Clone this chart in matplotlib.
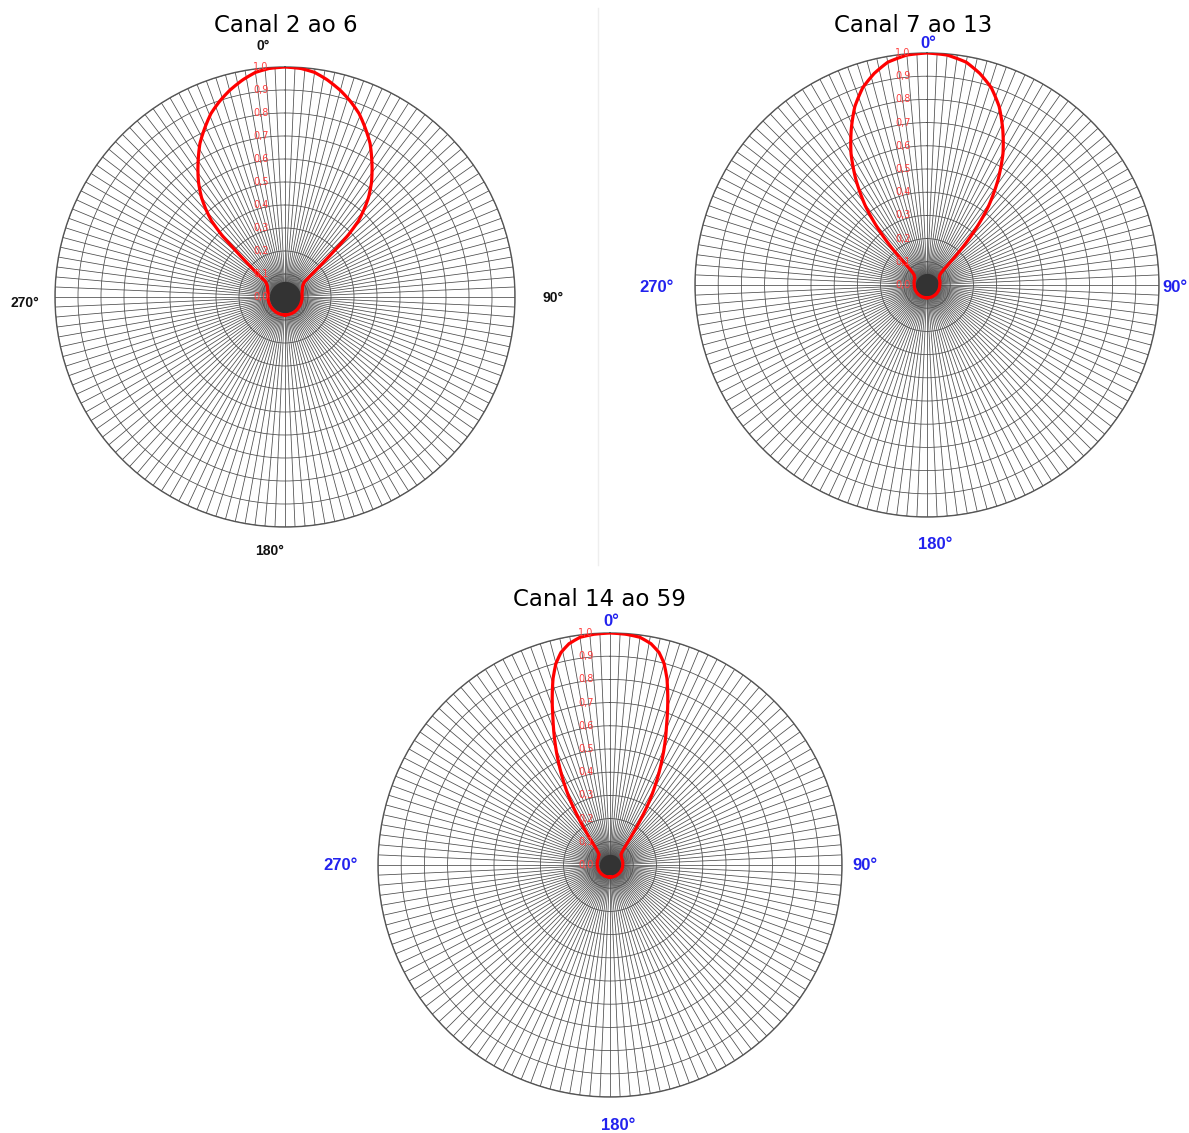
import numpy as np
import matplotlib
matplotlib.use("Agg")
import matplotlib.pyplot as plt
import matplotlib.transforms as mtransforms

W, H = 1189, 1133

# diagramas (metade direita, simetricos): angulo em graus -> campo relativo
ang_c1 = [0, 4, 7.5, 11, 15, 18.5, 22, 25.5, 29, 31.5, 34, 37, 40, 42, 44, 45.7, 47,
          48.5, 50, 51.5, 55, 60, 70, 78, 100, 130, 155, 180]
val_c1 = [1.0, 0.996, 0.985, 0.962, 0.93, 0.897, 0.86, 0.812, 0.763, 0.72, 0.677, 0.625,
          0.565, 0.515, 0.46, 0.38, 0.28, 0.2, 0.15, 0.11, 0.097, 0.088, 0.08, 0.075,
          0.074, 0.075, 0.077, 0.078]

ang_c2 = [0, 5, 10, 14, 18, 22, 26, 30, 34, 38, 41, 43.5, 45.5, 47, 49.5, 52, 60, 90,
          135, 180]
val_c2 = [1.0, 0.995, 0.975, 0.94, 0.895, 0.83, 0.745, 0.655, 0.548, 0.43, 0.32, 0.22,
          0.14, 0.10, 0.08, 0.07, 0.06, 0.055, 0.055, 0.055]

ang_c3 = [0, 4, 7.5, 10.5, 13, 15, 17, 19, 21.5, 24, 26.5, 29, 31.5, 33.5, 35.5, 38,
          41, 46, 60, 90, 135, 180]
val_c3 = [1.0, 0.997, 0.99, 0.97, 0.94, 0.90, 0.84, 0.765, 0.67, 0.585, 0.50, 0.415,
          0.33, 0.255, 0.185, 0.12, 0.085, 0.065, 0.058, 0.055, 0.053, 0.052]

titulos = ["Canal 2 ao 6", "Canal 7 ao 13", "Canal 14 ao 59"]
r_ticks = [0.0, 0.1, 0.2, 0.3, 0.4, 0.5, 0.6, 0.7, 0.8, 0.9, 1.0]
r_labels = ["0,0", "0,1", "0,2", "0,3", "0,4", "0,5", "0,6", "0,7", "0,8", "0,9", "1,0"]
ang_labels = ["0°", "90°", "180°", "270°"]

# centro (px) e raio (px) de cada grafico
centros = [(285, 297, 230), (927, 285, 232), (610, 865, 232)]
miolo = [0.068, 0.05, 0.046]
pos_titulos = [(286, 25), (913, 25), (599, 600)]
pos_angs = [
    [(263, 46), (553, 298), (270, 551), (25, 303)],
    [(928, 44), (1175, 287), (935, 545), (657, 287)],
    [(611, 622), (865, 866), (618, 1125), (341, 866)],
]
cores_angs = ["#111111", "#2222ee", "#2222ee"]
tam_angs = [10, 12, 12]

fig = plt.figure(figsize=(W / 100, H / 100), dpi=100)

# linha divisoria clara
fig.add_artist(plt.Line2D([598 / W, 598 / W], [1 - 8 / H, 1 - 565 / H],
                          color="#eeeeee", lw=1))

dados = [(ang_c1, val_c1), (ang_c2, val_c2), (ang_c3, val_c3)]

for i, (angs, vals) in enumerate(dados):
    cx, cy, R = centros[i]
    ax = fig.add_axes([(cx - R) / W, (H - cy - R) / H, 2 * R / W, 2 * R / H],
                      projection="polar")
    ax.set_theta_zero_location("N")
    ax.set_theta_direction(-1)
    ax.set_ylim(0, 1)
    ax.set_thetagrids(np.arange(0, 360, 2.5), labels=[])
    ax.set_rgrids(r_ticks[1:], labels=[])
    ax.grid(True, color="#4a4a4a", lw=0.55)
    ax.spines["polar"].set_color("#555555")
    ax.spines["polar"].set_linewidth(1.0)

    # miolo escuro onde os raios se juntam
    tt = np.linspace(0, 2 * np.pi, 200)
    ax.fill_between(tt, 0, miolo[i], color="#333333", lw=0, zorder=3)

    a = np.array(angs, dtype=float)
    v = np.array(vals)
    theta = np.deg2rad(np.concatenate([-a[::-1], a[1:]]))
    r = np.concatenate([v[::-1], v[1:]])
    ln, = ax.plot(theta, r, color="#ff0000", lw=2.3, zorder=5)
    ln.recache(always=True)
    ln.get_path()._interpolation_steps = 30

    off = mtransforms.ScaledTranslation(-24 / 100, 0, fig.dpi_scale_trans)
    for rt, lab in zip(r_ticks, r_labels):
        ax.text(0, rt, lab, transform=ax.transData + off, color="#ff4040",
                fontsize=7, ha="center", va="center", zorder=6)

    tx, ty = pos_titulos[i]
    fig.text(tx / W, 1 - ty / H, titulos[i], fontsize=16.5, ha="center",
             va="center", family="DejaVu Sans")
    for (lx, ly), lab in zip(pos_angs[i], ang_labels):
        fig.text(lx / W, 1 - ly / H, lab, fontsize=tam_angs[i], ha="center",
                 va="center", color=cores_angs[i], fontweight="bold",
                 family="Liberation Sans")

fig.savefig("out.png", dpi=100, facecolor="white")
